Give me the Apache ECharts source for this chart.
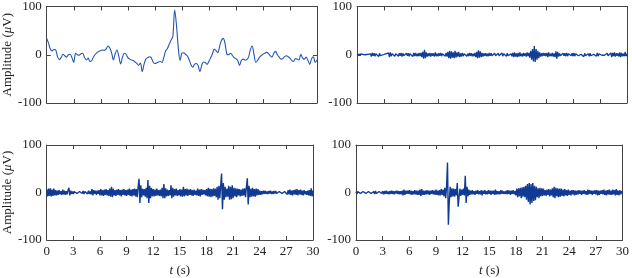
<!DOCTYPE html>
<html>
<head>
<meta charset="utf-8">
<script src="https://cdn.jsdelivr.net/npm/echarts@6/dist/echarts.min.js"></script>
<style>
    html, body { margin: 0; padding: 0; background: #fff; }
    #chart { width: 632px; height: 278px; }
</style>
</head>
<body>
<div id="chart"></div>
<script>
// time ticks (s) and amplitude ticks (uV)
var timeTicks = [0, 3, 6, 9, 12, 15, 18, 21, 24, 27, 30];
var ampTicks = [-100, 0, 100];

// top-left: slow signal, one sample every 0.2 s
var stepSlow = 0.2;
var sigTopLeft = [
    34, 24, 12, 8, 11, 10, -4, -10, -6, 1,
    -2, -5, 0, 1, -6, -16, 3, 0, -1, 2,
    3, -6, -11, -7, -14, -12, -4, 1, 5, 7,
    9, 10, 9, 12, 18, 14, 4, -11, 2, 10,
    -3, -19, -6, 3, 1, -6, -9, -11, -12, -15,
    -18, -22, -17, -35, -20, -9, -6, -4, -6, -15,
    -18, -17, -15, -14, -16, -5, 8, 13, 22, 30,
    38, 93, 62, 15, -12, 3, 4, 1, -2, -10,
    -20, -26, -20, -18, -22, -35, -22, -15, -16, -20,
    -14, -6, 2, 12, 8, 5, 18, 30, 34, 22,
    1, 0, 3, -1, -6, -8, -12, -22, -12, -9,
    -11, -10, -5, 10, 18, 2, -16, -12, -6, -2,
    1, 3, 5, 3, -2, -5, 3, 7, 0, -5,
    -9, -8, -4, -2, -4, -7, -12, -14, -8, -9,
    -11, 1, -7, -9, -5, -12, -20, -8, -4, -16,
    -11
];

// the other three: one sample every 0.1 s
var stepFast = 0.1;
var sigTopRight = [
    0, 1, -1, 1, 0, -1, 1, -2, 1, 0,
    2, -2, 1, 3, -3, 2, -4, 4, -2, 3,
    -3, 2, -1, 4, -4, 3, -2, 1, -1, 0,
    1, -1, 2, -2, 1, 4, -5, 5, -3, 2,
    -2, 3, -3, 2, -1, 2, -3, 3, -2, 4,
    -4, 3, -2, 2, -3, 3, -2, 3, -3, 2,
    -2, 3, -4, 4, -3, 4, -3, 2, -3, 4,
    -3, 4, -5, 6, -8, 10, -7, 5, -4, 3,
    -3, 4, -4, 3, -2, 3, -4, 5, -3, 2,
    -3, 3, -2, 4, -3, 2, -1, 3, -3, 4,
    -4, 6, -7, 8, -8, 7, -6, 5, -7, 8,
    -6, 5, -4, 6, -5, 3, -4, 4, -3, 2,
    -2, 3, -3, 2, -3, 4, -2, 3, -3, 2,
    -3, 4, -5, 6, -7, 9, -6, 7, -5, 4,
    -4, 3, -2, 3, -3, 2, -3, 4, -2, 3,
    -2, 2, -3, 3, -2, 1, -2, 3, -2, 2,
    -3, 4, -3, 2, -1, 2, -3, 3, -2, 1,
    -1, 2, -3, 4, -5, 5, -4, 3, -5, 4,
    -4, 5, -3, 2, -4, 4, -2, 3, -4, 5,
    -3, 4, -6, 8, -10, 12, -14, 18, -15, 12,
    -10, 8, -7, 5, -4, 3, -3, 4, -2, 3,
    -3, 4, -5, 5, -3, 2, -3, 4, -4, 3,
    -5, 7, -8, 6, -4, 3, -2, 2, -3, 3,
    -2, 3, -3, 4, -3, 2, -2, 1, -2, 3,
    -3, 4, -3, 2, -1, 1, -2, 2, -1, 1,
    -2, 3, -4, 3, -2, 1, -1, 2, -3, 3,
    -2, 1, -1, 1, -2, 3, -3, 4, -3, 2,
    -1, 1, -1, 0, 1, -1, 2, -3, 3, -2,
    2, -3, 4, -5, 4, -3, 5, -4, 3, -2,
    3, -4, 5, -5, 4, -3, 2, -3, 6, -3,
    2
];
var sigBottomLeft = [
    6, -8, 8, -7, 9, -8, 6, -7, 8, -6,
    5, -6, 4, -5, 5, -4, 3, -5, 6, -4,
    4, -5, 3, -4, 5, 10, -6, 4, -3, 2,
    -3, 2, -2, 3, -2, 2, -3, 2, -1, 2,
    -2, 3, -3, 2, -2, 3, -3, 4, -3, 2,
    -4, 7, -6, 5, -3, 4, -5, 4, -3, 5,
    -6, 7, -6, 5, -7, 6, -5, 7, -6, 5,
    -7, 8, -9, 12, -10, 8, -6, 5, -7, 6,
    -5, 7, -6, 5, -8, 6, -5, 7, -6, 5,
    -7, 6, -5, 8, -7, 6, -8, 7, -6, 8,
    -8, 7, -10, 12, 29, -22, 15, -10, 8, -6,
    7, -9, 10, -12, 26, -22, 14, -12, 10, -8,
    7, -8, 6, -7, 8, -6, 5, -7, 6, -8,
    10, -12, 18, -12, 9, -8, 6, -7, 5, -6,
    15, -12, 10, -9, 7, -6, 8, -7, 5, -6,
    7, -8, 6, -9, 12, -8, 7, -6, 8, -7,
    6, -5, 7, -6, 5, -7, 6, -5, 4, -6,
    8, -7, 6, -8, 7, -5, 6, -4, 5, -6,
    7, -8, 10, -9, 8, -10, 7, -8, 9, -7,
    8, -10, 12, -15, 14, -12, 15, 40, -35, 20,
    -15, 12, -10, 8, -9, 14, -15, 12, -14, 15,
    -12, 10, -8, 9, -10, 8, -6, 7, -8, 6,
    -7, 8, -6, 9, -10, 12, 30, -25, 14, -10,
    8, -9, 10, -8, 7, -9, 8, -6, 7, -5,
    4, -5, 3, -4, 4, -3, 4, -3, 2, -3,
    3, -2, 4, -3, 2, -3, 3, -2, 3, -2,
    2, -3, 2, -2, 3, -2, 2, -3, 2, -2,
    3, -4, 5, -4, 6, -5, 4, -6, 5, -4,
    6, -5, 7, -6, 5, -4, 6, -5, 4, -6,
    5, -4, 3, -5, 4, -6, 5, -7, 9, -8,
    4
];
var sigBottomRight = [
    2, -3, 2, -2, 3, -2, 2, -3, 2, -2,
    3, -2, 2, -3, 2, -2, 3, -2, 2, -3,
    2, -3, 3, -2, 2, -3, 2, -2, 3, -2,
    3, -4, 3, -3, 4, -3, 2, -4, 3, -3,
    4, -3, 3, -4, 3, -2, 4, -3, 3, -4,
    3, -4, 4, -6, 6, -5, 4, -3, 4, -3,
    5, -4, 4, -5, 3, -4, 5, -4, 4, -5,
    4, -5, 6, -7, 7, -5, 4, -5, 4, -4,
    5, -4, 4, -5, 4, -3, 5, -4, 4, -5,
    6, -5, 4, -6, 5, -6, 7, -5, 6, -8,
    10, -12, 14, 63, -68, -20, 12, -10, 9, -8,
    8, -9, 7, -6, 20, -30, -10, 8, -7, 6,
    -5, 8, -6, 35, -22, 12, -8, 6, -5, 4,
    -4, 5, -4, 3, -5, 4, -3, 5, -4, 3,
    -4, 5, -6, 4, -3, 5, -4, 3, -4, 5,
    -3, 4, -5, 4, -3, 4, -5, 6, -4, 3,
    -4, 3, -4, 5, -3, 4, -3, 2, -3, 4,
    -4, 5, -3, 4, -5, 4, -3, 5, -4, 3,
    -6, 8, -10, 9, -8, 10, -12, 11, -9, 12,
    -10, 14, -15, 18, -20, 20, -25, 18, -22, 20,
    -18, 14, -16, 12, -10, 9, -12, 10, -8, 9,
    -7, 8, -6, 5, -7, 6, -5, 7, -8, 6,
    -6, 9, -10, 12, -12, 10, -8, 9, -10, 8,
    -9, 8, -7, 6, -8, 7, -6, 5, -7, 6,
    -5, 4, -6, 5, -4, 5, -6, 4, -5, 4,
    -4, 5, -3, 4, -5, 4, -3, 5, -4, 3,
    -5, 6, -4, 5, -3, 4, -5, 4, -3, 5,
    -4, 5, -6, 4, -5, 4, -3, 5, -4, 6,
    -5, 4, -6, 5, -4, 6, -5, 4, -5, 6,
    -4, 5, -6, 7, -5, 4, -6, 5, -4, 3,
    -2
];

var FONT = '"Liberation Serif", "Times New Roman", Times, serif';
var AXIS_COLOR = '#444';

//时间序列 -> [t, v]
function toPairs(values, step) {
    return values.map(function (v, i) {
        return [+(i * step).toFixed(2), v];
    });
}

var panels = [
    {left: 46, right: 315, top: 5, height: 98, data: sigTopLeft, step: stepSlow, smooth: 0.3, color: '#2456b4', width: 1.1, xLabels: false, yName: true},
    {left: 357, right: 5, top: 5, height: 98, data: sigTopRight, step: stepFast, smooth: false, color: '#123d96', width: 1.3, xLabels: false, yName: false},
    {left: 41, right: 319, top: 145, height: 100, data: sigBottomLeft, step: stepFast, smooth: false, color: '#103a94', width: 1.4, xLabels: true, yName: true},
    {left: 356, right: 5, top: 145, height: 100, data: sigBottomRight, step: stepFast, smooth: false, color: '#103a94', width: 1.4, xLabels: true, yName: false}
];

var grid = [], xAxis = [], yAxis = [], series = [];
panels.forEach(function (p, i) {
    grid.push({left: p.left, right: p.right, top: p.top, height: p.height});
    var axisLine = {show: true, onZero: false, lineStyle: {color: AXIS_COLOR, width: 1}};
    var tick = {show: true, inside: true, length: 4, lineStyle: {color: AXIS_COLOR}};
    // bottom x
    xAxis.push({
        gridIndex: i, type: 'value', position: 'bottom',
        min: timeTicks[0], max: timeTicks[timeTicks.length - 1], interval: 3,
        axisLine: axisLine, axisTick: tick, splitLine: {show: false},
        axisLabel: {show: p.xLabels, color: '#222', fontFamily: FONT, fontSize: 13, margin: 5},
        name: p.xLabels ? '{i|t} (s)' : '',
        nameLocation: 'middle', nameGap: 24,
        nameTextStyle: {
            color: '#222', fontFamily: FONT, fontSize: 13,
            rich: {i: {fontStyle: 'italic', fontFamily: FONT, fontSize: 13, color: '#222'}}
        }
    });
    // top x (mirror)
    xAxis.push({
        gridIndex: i, type: 'value', position: 'top',
        min: timeTicks[0], max: timeTicks[timeTicks.length - 1], interval: 3,
        axisLine: axisLine, axisTick: tick, axisLabel: {show: false}, splitLine: {show: false}
    });
    // left y
    yAxis.push({
        gridIndex: i, type: 'value', position: 'left',
        min: ampTicks[0], max: ampTicks[ampTicks.length - 1], interval: 100,
        axisLine: axisLine, axisTick: tick, splitLine: {show: false},
        axisLabel: {color: '#222', fontFamily: FONT, fontSize: 13, margin: 5},
        name: p.yName ? 'Amplitude ({i|μ}V)' : '',
        nameLocation: 'middle', nameGap: 30, nameRotate: 90,
        nameTextStyle: {
            color: '#222', fontFamily: FONT, fontSize: 13,
            rich: {i: {fontStyle: 'italic', fontFamily: FONT, fontSize: 13, color: '#222'}}
        }
    });
    // right y (mirror)
    yAxis.push({
        gridIndex: i, type: 'value', position: 'right',
        min: ampTicks[0], max: ampTicks[ampTicks.length - 1], interval: 100,
        axisLine: axisLine, axisTick: tick, axisLabel: {show: false}, splitLine: {show: false}
    });
    series.push({
        type: 'line',
        xAxisIndex: i * 2, yAxisIndex: i * 2,
        data: toPairs(p.data, p.step),
        showSymbol: false, smooth: p.smooth,
        lineStyle: {color: p.color, width: p.width},
        itemStyle: {color: p.color},
        silent: true
    });
});

var myChart = echarts.init(document.getElementById('chart'));
myChart.setOption({
    animation: false,
    backgroundColor: '#fff',
    grid: grid,
    xAxis: xAxis,
    yAxis: yAxis,
    series: series
});
</script>
</body>
</html>
